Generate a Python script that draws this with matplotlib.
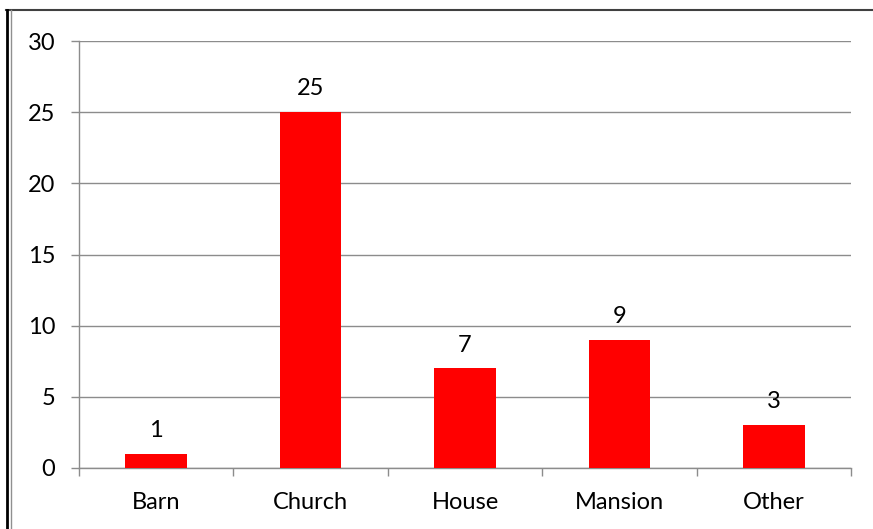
import matplotlib.pyplot as plt
from matplotlib.lines import Line2D
import numpy as np

plt.rcParams.update({
    "font.family": ["Lato", "DejaVu Sans"],
    "font.size": 17,
})

categories = ["Barn", "Church", "House", "Mansion", "Other"]
counts = [1, 25, 7, 9, 3]
y_ticks = [0, 5, 10, 15, 20, 25, 30]

W, H = 873, 529
fig = plt.figure(figsize=(W / 100, H / 100), dpi=100)
ax = fig.add_axes([79 / W, 1 - 468 / H, (851 - 79) / W, (468 - 41) / H])

x = np.arange(len(categories))
ax.bar(x, counts, width=0.4, color="#ff0000", zorder=3)
for xi, v in zip(x, counts):
    ax.text(xi, v + 0.9, str(v), ha="center", va="bottom", fontsize=17)

ax.set_xlim(-0.5, len(categories) - 0.5)
ax.set_ylim(0, 30)
ax.set_yticks(y_ticks)
ax.yaxis.grid(True, color="#8c8c8c", linewidth=1, zorder=0)

ax.set_xticks(x)
ax.set_xticklabels(categories)
ax.tick_params(axis="x", which="major", length=0, pad=17)
ax.set_xticks(np.arange(len(categories) + 1) - 0.5, minor=True)
ax.tick_params(axis="x", which="minor", length=6, color="#8c8c8c", width=1)
ax.tick_params(axis="y", length=6, color="#8c8c8c", width=1, pad=11)

for s in ["top", "right"]:
    ax.spines[s].set_visible(False)
for s in ["left", "bottom"]:
    ax.spines[s].set_color("#8c8c8c")
    ax.spines[s].set_linewidth(1)

# outer frame
fig.add_artist(Line2D([6 / W, 1], [1 - 10 / H, 1 - 10 / H], color="#404040", linewidth=1.5, transform=fig.transFigure))
fig.add_artist(Line2D([7 / W, 7 / W], [0, 1 - 10 / H], color="black", linewidth=2, transform=fig.transFigure))
fig.add_artist(Line2D([11 / W, 11 / W], [0, 1 - 10 / H], color="#909090", linewidth=1, transform=fig.transFigure))

fig.savefig("out.png", dpi=100)
